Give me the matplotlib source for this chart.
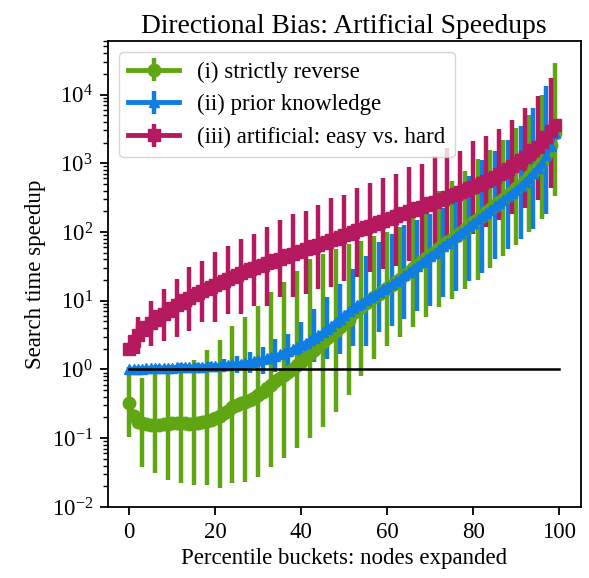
import numpy as np
import matplotlib
matplotlib.use("Agg")
import matplotlib.pyplot as plt

plt.rcParams['font.family'] = ['Liberation Serif', 'DejaVu Serif']
plt.rcParams['mathtext.fontset'] = 'stix'
plt.rcParams['font.size'] = 16.5

buckets = list(range(100))

# (i) strictly reverse
reverse = [0.33, 0.21, 0.17, 0.165, 0.16, 0.158, 0.157, 0.158, 0.16, 0.162,
           0.165, 0.167, 0.166, 0.164, 0.163, 0.165, 0.168, 0.172, 0.178, 0.185,
           0.195, 0.21, 0.23, 0.25, 0.28, 0.3, 0.32, 0.34, 0.36, 0.39,
           0.42, 0.47, 0.53, 0.6, 0.67, 0.75, 0.83, 0.92, 1.02, 1.15,
           1.3, 1.5, 1.7, 1.95, 2.2, 2.5, 2.85, 3.2, 3.6, 4.1,
           4.7, 5.3, 6.6, 7.4, 8.2, 9.2, 10.2, 11.3, 12.5, 13.8,
           15.3, 17, 18.8, 21, 23.5, 26.5, 30, 33.5, 37.5, 42,
           47, 52, 58, 64, 71, 79, 88, 98, 110, 124,
           139, 155, 173, 194, 217, 243, 272, 305, 340, 380,
           430, 490, 560, 645, 750, 880, 1060, 1350, 1850, 2800]
reverse_lo = [0.104, 0.038, 0.031, 0.025, 0.022, 0.021, 0.021, 0.019, 0.022, 0.023,
              0.027, 0.038, 0.051, 0.072, 0.1, 0.146, 0.24, 0.43, 0.79, 1.4,
              2.2, 3.0, 4.1, 5.8, 8.1, 10.6, 15, 20, 30, 44,
              65, 100, 157, 330]
reverse_hi = [0.85, 0.76, 0.85, 1.1, 1.26, 1.38, 1.9, 2.7, 4.3, 5.8,
              8.4, 13.4, 18.8, 27, 41, 48, 57, 67, 75, 86,
              100, 120, 220, 310, 390, 550, 760, 1150, 1560, 2200,
              3300, 5100, 10000, 29000]

# (ii) prior knowledge
prior = [1.0, 1.02, 1.03, 1.03, 1.04, 1.04, 1.05, 1.05, 1.05, 1.06,
         1.06, 1.07, 1.07, 1.08, 1.08, 1.09, 1.1, 1.1, 1.11, 1.12,
         1.13, 1.14, 1.15, 1.17, 1.19, 1.2, 1.22, 1.25, 1.28, 1.31,
         1.35, 1.4, 1.45, 1.5, 1.57, 1.65, 1.75, 1.85, 1.97, 2.1,
         2.25, 2.45, 2.65, 2.9, 3.2, 3.5, 3.85, 4.25, 4.9, 5.5,
         6.2, 7.0, 7.8, 8.6, 9.4, 10.3, 11.2, 12.3, 13.4, 14.6,
         16, 17.5, 19.2, 21, 23.5, 26, 29, 32.5, 36, 40,
         45, 50, 56, 62, 69, 77, 86, 96, 108, 122,
         136, 152, 170, 190, 212, 237, 265, 296, 330, 370,
         415, 470, 540, 620, 720, 850, 1020, 1300, 1800, 2750]
prior_lo = [0.95, 0.95, 0.95, 0.95, 0.94, 0.93, 0.93, 0.92, 0.9, 0.9,
            0.85, 0.93, 1.0, 1.1, 1.3, 1.4, 1.65, 2.2, 2.2, 3.5,
            4.3, 5.4, 7.1, 8.3, 11.3, 14, 19.6, 25, 41, 57,
            78, 112, 185]
prior_hi = [1.1, 1.12, 1.15, 1.18, 1.2, 1.25, 1.3, 1.4, 1.55, 1.8,
            2.1, 2.75, 3.3, 4.9, 7.5, 11.3, 17.6, 29, 45, 72,
            95, 125, 147, 185, 220, 430, 650, 1100, 1500, 2200,
            3500, 6300, 13500]

# (iii) artificial: easy vs. hard
artificial = [2.0, 2.6, 3.2, 3.7, 4.2, 4.7, 5.3, 5.9, 6.5, 7.2,
              7.9, 8.6, 9.3, 10.1, 11, 12, 13, 14, 15, 16,
              17, 18, 19.5, 21, 22.5, 24, 25.5, 27, 28.5, 30,
              32, 33.5, 35, 37, 39, 41, 43, 45.5, 48, 50.5,
              53, 56, 59, 62, 65, 68, 72, 76, 80, 85,
              90, 95, 100, 106, 112, 118, 124, 131, 138, 146,
              154, 162, 171, 180, 190, 200, 211, 222, 234, 247,
              260, 274, 289, 305, 322, 340, 360, 380, 405, 430,
              455, 485, 520, 555, 595, 640, 690, 750, 820, 900,
              1000, 1100, 1220, 1370, 1550, 1750, 2050, 2450, 2950, 3600]
artificial_lo = [1.66, 2.2, 2.6, 3.0, 3.6, 4.9, 4.9, 6.4, 6.4, 8.4,
                 8.4, 11.3, 11.3, 12.5, 15, 16, 19.6, 22, 26, 29,
                 32, 38, 45, 52, 63, 75, 95, 120, 147, 185,
                 220, 290, 430]
artificial_hi = [5.8, 10, 14.8, 21, 31, 38, 52, 63, 80, 95,
                 120, 147, 180, 205, 250, 310, 350, 430, 510, 600,
                 700, 870, 970, 1270, 1650, 1500, 2100, 2500, 3200, 4300,
                 6300, 9600, 17500]


def bar_err(vals, lo, hi, offset):
    # error bars only drawn every third bucket
    vals = np.array(vals)
    low = np.zeros(len(vals))
    high = np.zeros(len(vals))
    low[offset::3] = vals[offset::3] - np.array(lo)
    high[offset::3] = np.array(hi) - vals[offset::3]
    return [low, high]


fig, ax = plt.subplots(figsize=(5.89, 5.78), dpi=100)
fig.subplots_adjust(left=0.183, right=0.986, bottom=0.123, top=0.929)

ax.errorbar(buckets, reverse, yerr=bar_err(reverse, reverse_lo, reverse_hi, 0),
            errorevery=(0, 3), color='#5fa612', marker='o', markersize=9,
            linewidth=3.5, elinewidth=3.2, label='(i) strictly reverse')
ax.errorbar(buckets, prior, yerr=bar_err(prior, prior_lo, prior_hi, 1),
            errorevery=(1, 3), color='#0f7de1', marker='^', markersize=7.5,
            linewidth=3.5, elinewidth=3.2, label='(ii) prior knowledge')
ax.errorbar(buckets, artificial, yerr=bar_err(artificial, artificial_lo, artificial_hi, 2),
            errorevery=(2, 3), color='#b51a60', marker='s', markersize=8,
            linewidth=3.5, elinewidth=3.2, label='(iii) artificial: easy vs. hard')
ax.plot([0, 100], [1, 1], color='black', linewidth=1.8, zorder=5)

ax.set_yscale('log')
ax.set_ylim(1e-2, 6e4)
ax.set_xticks([0, 20, 40, 60, 80, 100])
ax.tick_params(length=5.8, width=1.3, pad=5)
ax.tick_params(which='minor', length=3.3, width=1)
for s in ax.spines.values():
    s.set_linewidth(1.3)
ax.set_title('Directional Bias: Artificial Speedups', fontsize=19.8)
ax.set_xlabel('Percentile buckets: nodes expanded')
ax.set_ylabel('Search time speedup')
ax.legend(loc='upper left', handlelength=2.2)

plt.savefig('out.png')
